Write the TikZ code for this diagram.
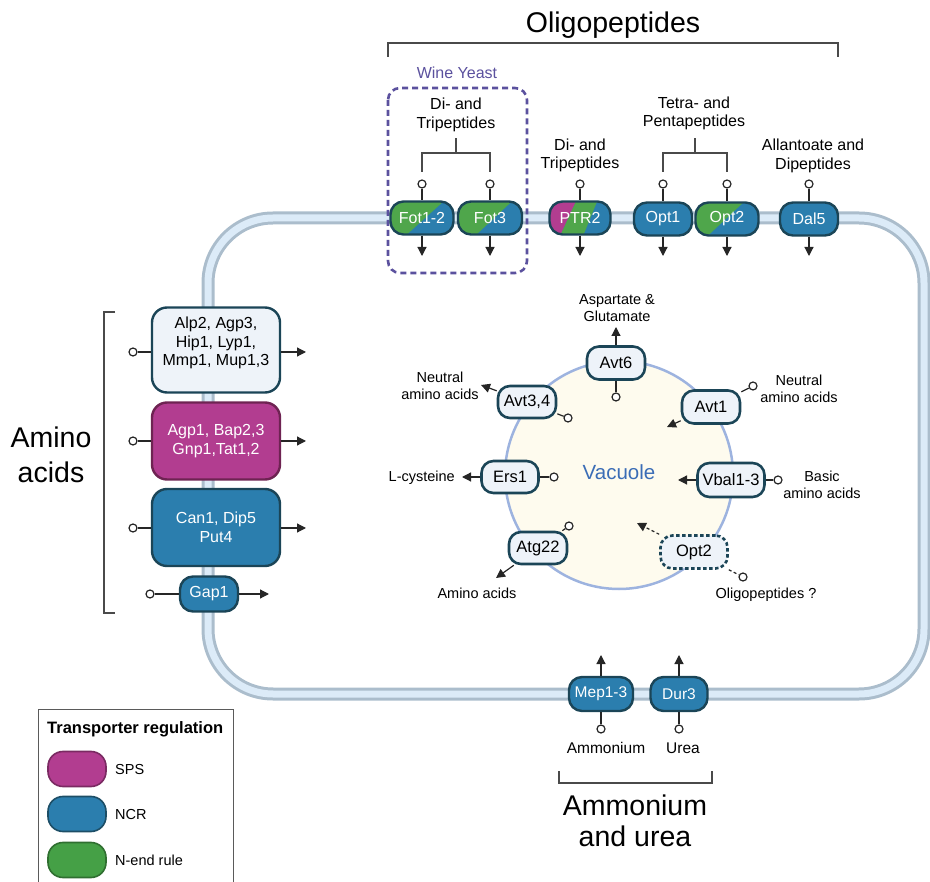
\documentclass[tikz,border=0pt]{standalone}
\usepackage{fontspec}
\setmainfont{Liberation Sans}
\usetikzlibrary{arrows.meta,calc}
\definecolor{cB}{HTML}{2B7EAE}
\definecolor{cG}{HTML}{4FA64B}
\definecolor{cM}{HTML}{B23D90}
\definecolor{dk}{HTML}{1B4557}
\definecolor{lt}{HTML}{EEF3F9}
\definecolor{vacF}{HTML}{FEFBEE}
\definecolor{vacB}{HTML}{9DB3DF}
\definecolor{vacT}{HTML}{3B6DB6}
\definecolor{memO}{HTML}{ABBDCC}
\definecolor{memI}{HTML}{DCEBF8}
\definecolor{pur}{HTML}{5B519E}
\definecolor{ln}{HTML}{262626}
\definecolor{brkc}{HTML}{4A4A4A}
\definecolor{mDk}{HTML}{6E2352}
\definecolor{lgGray}{HTML}{5A5A5A}
\definecolor{lgMb}{HTML}{7A2A62}
\definecolor{lgBb}{HTML}{1D4E66}
\definecolor{lgGb}{HTML}{2F6F30}
\definecolor{lgG}{HTML}{45A046}
\tikzset{
  tp/.style={draw=dk, line width=2.4pt, rounded corners=13pt, minimum height=33pt, inner sep=0pt, text=white, font=\fontsize{16}{18}\selectfont},
  ncr/.style={tp, fill=cB},
  splitGB/.style 2 args={tp, path picture={
    \fill[cB, sharp corners] (path picture bounding box.south west) rectangle (path picture bounding box.north east);
    \fill[cG, sharp corners] (path picture bounding box.south west) -- ($(path picture bounding box.south west)!#1!(path picture bounding box.south east)$) -- ($(path picture bounding box.north west)!#2!(path picture bounding box.north east)$) -- (path picture bounding box.north west) -- cycle;}},
  vt/.style={draw=dk, fill=lt, line width=2.6pt, rounded corners=12pt, minimum height=33pt, inner sep=0pt, text=black, font=\fontsize{16.5}{18}\selectfont},
  bigbox/.style={draw=dk, line width=2.4pt, rounded corners=15pt, minimum width=128pt, inner sep=0pt, align=center, font=\fontsize{16}{19}\selectfont},
  circ/.style={circle, draw=ln, fill=white, line width=1.2pt, minimum size=8pt, inner sep=0pt},
  con/.style={draw=ln, line width=1.2pt},
  arr/.style={draw=ln, line width=1.2pt, -{Triangle[length=9pt,width=9pt]}},
  brk/.style={draw=brkc, line width=1.3pt},
  lab/.style={inner sep=0pt, align=center, font=\fontsize{16}{18.5}\selectfont},
  vlab/.style={inner sep=0pt, align=center, font=\fontsize{14.5}{16.5}\selectfont},
  big/.style={inner sep=0pt, align=center, font=\fontsize{28.5}{35}\selectfont},
  lgpill/.style={line width=1.6pt, rounded corners=15pt, minimum width=58pt, minimum height=35pt, inner sep=0pt},
}
\begin{document}
\begin{tikzpicture}[x=1pt,y=-1pt]
\useasboundingbox (0,0) rectangle (930,882);
% membrane
\draw[line width=13pt, memO, rounded corners=65pt] (208,218) rectangle (924,694);
\draw[line width=7pt, memI, rounded corners=65pt] (208,218) rectangle (924,694);

% Oligopeptides title and bracket
\node[big, anchor=base] (tOli) at (613,33) {Oligopeptides};
\draw[brk] (388,57) -- (388,43) -- (838,43) -- (838,57);

% Wine yeast box
\draw[pur, line width=2.6pt, dash pattern=on 6pt off 4pt, rounded corners=12pt] (388,88) rectangle (527,273);
\node[inner sep=0pt, anchor=base, text=pur, font=\fontsize{16}{18}\selectfont] (tWine) at (457,79) {Wine Yeast};

% top labels
\node[lab] (lDT1) at (456,115) {Di- and\\Tripeptides};
\node[lab] (lDT2) at (580,155.5) {Di- and\\Tripeptides};
\node[lab] (lTP) at (694,113.5) {Tetra- and\\Pentapeptides};
\node[lab] (lAD) at (813,156) {Allantoate and\\Dipeptides};
\draw[brk] (422,172) -- (422,153) -- (490,153) -- (490,172) (456,153) -- (456,138);
\draw[brk] (663,172) -- (663,153) -- (727,153) -- (727,172) (695,153) -- (695,138);

% top transporters
\node[splitGB={0.26}{0.84}, minimum width=63pt] (fot12) at (422,218) {Fot1-2};
\node[splitGB={0.29}{0.84}, minimum width=64pt] (fot3) at (490,218) {Fot3};
\node[tp, minimum width=61pt, path picture={
    \fill[cB, sharp corners] (path picture bounding box.south west) rectangle (path picture bounding box.north east);
    \fill[cG, sharp corners] ($(path picture bounding box.south west)!0.18!(path picture bounding box.south east)$) -- ($(path picture bounding box.south west)!0.56!(path picture bounding box.south east)$) -- ($(path picture bounding box.north west)!0.78!(path picture bounding box.north east)$) -- ($(path picture bounding box.north west)!0.43!(path picture bounding box.north east)$) -- cycle;
    \fill[cM, sharp corners] (path picture bounding box.south west) -- ($(path picture bounding box.south west)!0.18!(path picture bounding box.south east)$) -- ($(path picture bounding box.north west)!0.43!(path picture bounding box.north east)$) -- (path picture bounding box.north west) -- cycle;}] (ptr2) at (580,218) {PTR2};
\node[ncr, minimum width=58pt] (opt1) at (663,219) {Opt1};
\node[splitGB={0.2}{0.76}, minimum width=63pt] (opt2) at (727,219) {Opt2};
\node[ncr, minimum width=58pt] (dal5) at (809,219) {Dal5};

\foreach \n/\x in {fot12/422, fot3/490, ptr2/580, opt1/663, opt2/727, dal5/809}{
  \node[circ] (c\n) at (\x,184) {};
  \coordinate (a\n) at (\x,256);
  \draw[con] (c\n) -- (\n);
  \draw[arr] (\n) -- (a\n);
}

% amino acids (left)
\node[big] (tAmino) at (51,455) {Amino\\acids};
\draw[brk] (115,312) -- (104,312) -- (104,613) -- (115,613);

\node[bigbox, fill=lt, minimum height=85pt] (box1) at (216,350) {};
\node[lab, font=\fontsize{16}{18.5}\selectfont] (box1t) at (216,343) {Alp2, Agp3,\\Hip1, Lyp1,\\Mmp1, Mup1,3};
\node[bigbox, fill=cM, draw=mDk, minimum height=77pt, text=white] (box2) at (216,441) {Agp1, Bap2,3\\Gnp1,Tat1,2};
\node[bigbox, fill=cB, minimum height=77pt, text=white] (box3) at (216,527.5) {Can1, Dip5\\Put4};
\node[ncr, minimum width=58pt, minimum height=35pt] (gap1) at (209,594) {Gap1};

\node[circ] (cbox1) at (133,352) {};
\coordinate (abox1) at (306,352);
\node[circ] (cbox2) at (133,441) {};
\coordinate (abox2) at (306,441);
\node[circ] (cbox3) at (133,528) {};
\coordinate (abox3) at (306,528);
\draw[con] (cbox1) -- (cbox1 -| box1.west);
\draw[arr] (box1.east |- cbox1) -- (abox1);
\draw[con] (cbox2) -- (cbox2 -| box2.west);
\draw[arr] (box2.east |- cbox2) -- (abox2);
\draw[con] (cbox3) -- (cbox3 -| box3.west);
\draw[arr] (box3.east |- cbox3) -- (abox3);
\node[circ] (cgap1) at (150,594) {};
\coordinate (agap1) at (269,594);
\draw[con] (cgap1) -- (gap1);
\draw[arr] (gap1) -- (agap1);

% vacuole
\node[circle, draw=vacB, fill=vacF, line width=2.5pt, minimum size=228pt, inner sep=0pt] (vac) at (619,475) {};
\node[inner sep=0pt, anchor=base, text=vacT, font=\fontsize{20.5}{22}\selectfont] (vacl) at (619,480) {Vacuole};

\node[vt, minimum width=58pt] (avt6) at (616,363) {Avt6};
\node[vt, minimum width=58pt, minimum height=32pt] (avt34) at (527,402) {Avt3,4};
\node[vt, minimum width=58pt] (avt1) at (711,407) {Avt1};
\node[vt, minimum width=57pt, minimum height=32pt] (ers1) at (510,477) {Ers1};
\node[vt, minimum width=67pt, minimum height=34pt] (vbal) at (731,480) {Vbal1-3};
\node[vt, minimum width=58pt, minimum height=32pt] (atg22) at (538,548) {Atg22};
\node[vt, minimum width=67pt, dash pattern=on 3.5pt off 2.5pt] (opt2v) at (694,552) {Opt2};

\node[circ] (cavt6) at (616,397) {};
\coordinate (aavt6) at (616,327);
\draw[con] (avt6) -- (cavt6);
\draw[arr] (avt6) -- (aavt6);
\node[circ] (cavt34) at (568,418) {};
\coordinate (aavt34) at (481,385);
\draw[con] (avt34) -- (cavt34);
\draw[arr] (avt34) -- (aavt34);
\node[circ] (cavt1) at (753,386) {};
\coordinate (aavt1) at (667,427);
\draw[con] (avt1) -- (cavt1);
\draw[arr] (avt1) -- (aavt1);
\node[circ] (cers1) at (554,477) {};
\coordinate (aers1) at (462,477);
\draw[con] (ers1) -- (cers1);
\draw[arr] (ers1) -- (aers1);
\node[circ] (cvbal) at (778,480) {};
\coordinate (avbal) at (678,480);
\draw[con] (vbal) -- (cvbal);
\draw[arr] (vbal) -- (avbal);
\node[circ] (catg22) at (569,526) {};
\coordinate (aatg22) at (496,578);
\draw[con] (atg22) -- (catg22);
\draw[arr] (atg22) -- (aatg22);
\node[circ] (copt2v) at (743,577) {};
\coordinate (aopt2v) at (637,523);
\draw[con, dash pattern=on 3pt off 2.5pt] (opt2v) -- (copt2v);
\draw[arr, dash pattern=on 3pt off 2.5pt] (opt2v) -- (aopt2v);

\node[vlab] (lAsp) at (617,308) {Aspartate \&\\Glutamate};
\node[vlab] (lNeuL) at (440,386) {Neutral\\amino acids};
\node[vlab] (lNeuR) at (799,389) {Neutral\\amino acids};
\node[vlab] (lBas) at (822,485) {Basic\\amino acids};
\node[vlab, anchor=base east] (lCys) at (455,482) {L-cysteine};
\node[vlab, anchor=base] (lAA) at (477,598) {Amino acids};
\node[vlab, anchor=base] (lOli) at (766,598) {Oligopeptides ?};

% bottom
\node[ncr, minimum width=64pt, minimum height=34pt, font=\fontsize{15.5}{18}\selectfont] (mep) at (601,694) {Mep1-3};
\node[ncr, minimum width=57pt, minimum height=34pt, font=\fontsize{15.5}{18}\selectfont] (dur) at (679,694) {Dur3};
\node[circ] (cmep) at (601,729) {};
\node[circ] (cdur) at (679,729) {};
\coordinate (amep) at (601,655);
\coordinate (adur) at (679,655);
\draw[con] (cmep) -- (mep);
\draw[arr] (mep) -- (amep);
\draw[con] (cdur) -- (dur);
\draw[arr] (dur) -- (adur);
\node[lab, anchor=base, font=\fontsize{15.5}{18}\selectfont] (lAmm) at (606,753) {Ammonium};
\node[lab, anchor=base, font=\fontsize{15.5}{18}\selectfont] (lUrea) at (683,753) {Urea};
\draw[brk] (559,771) -- (559,783) -- (712,783) -- (712,771);
\node[big, anchor=base] (tAmm1) at (635,815) {Ammonium};
\node[big, anchor=base] (tAmm2) at (635,846) {and urea};

% legend
\node[draw=lgGray, line width=1.3pt, minimum width=195pt, minimum height=190pt, anchor=north west, inner sep=0pt] (legend) at (38,709) {};
\node[inner sep=0pt, anchor=base west, font=\bfseries\fontsize{16.5}{18}\selectfont] (lgT) at (47,733) {Transporter regulation};
\node[lgpill, draw=lgMb, fill=cM] (lgS) at (77,769) {};
\node[lgpill, draw=lgBb, fill=cB] (lgN) at (77,814) {};
\node[lgpill, draw=lgGb, fill=lgG] (lgE) at (77,860) {};
\node[inner sep=0pt, anchor=base west, font=\fontsize{14.5}{17}\selectfont] (lgSt) at (115,774) {SPS};
\node[inner sep=0pt, anchor=base west, font=\fontsize{14.5}{17}\selectfont] (lgNt) at (115,819.5) {NCR};
\node[inner sep=0pt, anchor=base west, font=\fontsize{14.5}{17}\selectfont] (lgEt) at (115,865) {N-end rule};
\end{tikzpicture}
\end{document}
